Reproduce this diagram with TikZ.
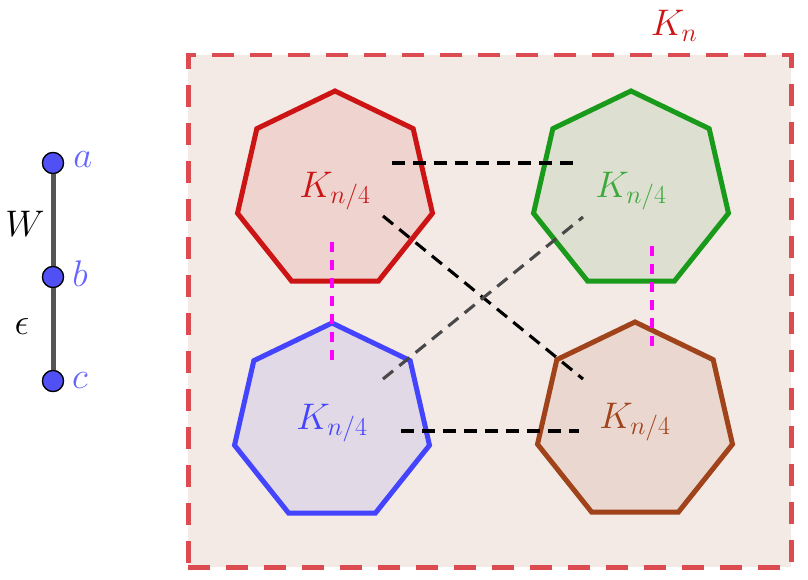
\RequirePackage{fix-cm}
\documentclass[tikz,border=0pt]{standalone}
\usetikzlibrary{shapes.geometric}
\definecolor{bgfill}{HTML}{F3EAE6}
\definecolor{rectc}{HTML}{DB4B50}
\definecolor{redc}{HTML}{CC1414}
\definecolor{redf}{HTML}{EFD3CF}
\definecolor{greenc}{HTML}{1A9A1A}
\definecolor{greenf}{HTML}{DDDFD0}
\definecolor{bluec}{HTML}{4444FF}
\definecolor{bluef}{HTML}{E1D9E6}
\definecolor{brownc}{HTML}{A0421A}
\definecolor{brownf}{HTML}{EAD7CF}
\definecolor{ptc}{HTML}{5050F5}
\definecolor{ptlab}{HTML}{6666FF}
\definecolor{edgec}{HTML}{555555}
\definecolor{magc}{HTML}{FF00FF}
\tikzset{
  bigfont/.style={font=\fontsize{37}{40}\selectfont},
  hept/.style={regular polygon, regular polygon sides=7, minimum size=200pt,
    inner sep=0pt, line width=5pt, bigfont},
  vtx/.style={circle, fill=ptc, draw=black, line width=1.2pt, minimum size=21pt, inner sep=0pt},
  vlab/.style={text=ptlab, bigfont, inner sep=0pt},
  blackdash/.style={draw=black, line width=3.1pt, dash pattern=on 13pt off 8pt},
  graydash/.style={draw=edgec!85!black, line width=3.1pt, dash pattern=on 13pt off 8pt},
  magdash/.style={draw=magc, line width=3.2pt, dash pattern=on 10pt off 8pt},
}
\begin{document}
\begin{tikzpicture}[x=1pt,y=-1pt]
\useasboundingbox (0,0) rectangle (808,580);
% outer region
\node[draw=rectc, fill=bgfill, line width=4.5pt, dash pattern=on 22pt off 16pt,
  minimum width=603pt, minimum height=512pt, inner sep=0pt, anchor=north west]
  (Kn) at (186,53) {};
\node[text=redc, bigfont, inner sep=0pt] (Knlab) at (674,26) {$K_n$};
% heptagons
\node[hept, draw=redc, fill=redf, text=redc] (R) at (335,191) {$K_{n/4}$};
\node[hept, draw=greenc, fill=greenf, text=greenc!85!white] (G) at (631,191) {$K_{n/4}$};
\node[hept, draw=bluec, fill=bluef, text=bluec] (B) at (332,423) {$K_{n/4}$};
\node[hept, draw=brownc, fill=brownf, text=brownc] (N) at (635,422) {$K_{n/4}$};
% connector end points
\coordinate (rg1) at (392,163);
\coordinate (rg2) at (575,163);
\coordinate (rn1) at (383,216);
\coordinate (rn2) at (583,379);
\coordinate (bg1) at (383,379);
\coordinate (bg2) at (583,217);
\coordinate (bn1) at (401,431);
\coordinate (bn2) at (579,431);
\coordinate (rb1) at (332,242);
\coordinate (rb2) at (332,362);
\coordinate (gn1) at (652,246);
\coordinate (gn2) at (652,351);
\draw[blackdash] (rg1) -- (rg2);
\draw[blackdash] (rn1) -- (rn2);
\draw[graydash] (bg1) -- (bg2);
\draw[blackdash] (bn1) -- (bn2);
\draw[magdash] (rb1) -- (rb2);
\draw[magdash] (gn1) -- (gn2);
% left path graph
\node[vtx] (a) at (53,163) {};
\node[vtx] (b) at (53,277) {};
\node[vtx] (c) at (53,381) {};
\draw[edgec, line width=5pt] (a) -- (b) -- (c);
\node[vtx] at (a) {};
\node[vtx] at (b) {};
\node[vtx] at (c) {};
\node[vlab] (la) at (83,160) {$a$};
\node[vlab] (lb) at (80,274) {$b$};
\node[vlab] (lc) at (80,381) {$c$};
\node[bigfont, inner sep=0pt] (lW) at (25,224) {$W$};
\node[bigfont, inner sep=0pt] (le) at (22,327) {$\epsilon$};
\end{tikzpicture}
\end{document}
